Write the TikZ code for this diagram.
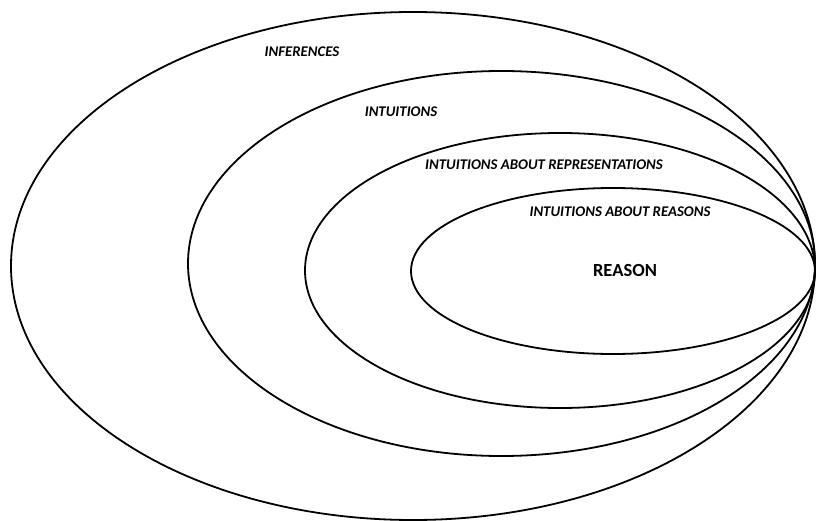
\documentclass[tikz,border=0pt]{standalone}
\usepackage{fontspec}
\setmainfont{Carlito}
\begin{document}
\begin{tikzpicture}[x=1pt,y=-1pt,
  ring/.style={draw=black,line width=1.8pt},
  lbl/.style={font=\fontsize{14.8}{17}\selectfont\bfseries\itshape,inner sep=0pt},
  core/.style={font=\fontsize{18.5}{22}\selectfont\bfseries,inner sep=0pt}]
\useasboundingbox (0,0) rectangle (818,521);
\draw[ring] (413,266) ellipse [x radius=402, y radius=254];
\draw[ring] (501.5,263.5) ellipse [x radius=313.5, y radius=192.5];
\draw[ring] (560,270.5) ellipse [x radius=255, y radius=137.5];
\draw[ring] (613,271) ellipse [x radius=202, y radius=83];
\node[lbl] (inf) at (302,52) {INFERENCES};
\node[lbl] (int) at (401,112) {INTUITIONS};
\node[lbl] (rep) at (544,165) {INTUITIONS ABOUT REPRESENTATIONS};
\node[lbl] (rea) at (620,212) {INTUITIONS ABOUT REASONS};
\node[core] (reason) at (625,270) {REASON};
\end{tikzpicture}
\end{document}
